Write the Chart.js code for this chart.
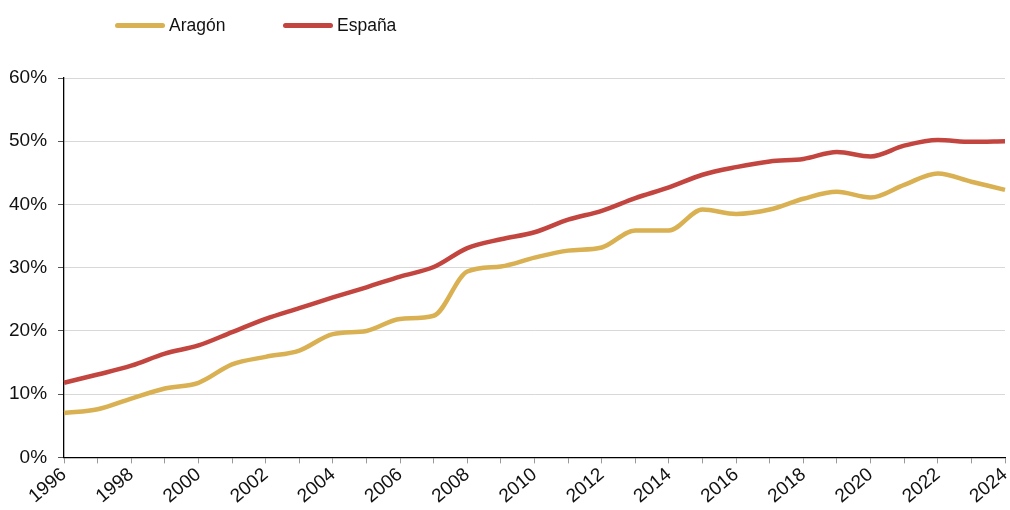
<!DOCTYPE html>
<html>
<head>
<meta charset="utf-8">
<script src="https://cdn.jsdelivr.net/npm/chart.js@4"></script>
<style>
  html, body { margin: 0; padding: 0; background: #fff; }
  #wrap { position: relative; width: 1010px; height: 510px; }
  .legend { position: absolute; top: 15px; font: 17.5px "Liberation Sans", Arial, sans-serif; color: #111; display: flex; align-items: center; }
  .legend span.sw { display: inline-block; width: 50px; height: 5px; border-radius: 3px; margin-right: 4px; }
</style>
</head>
<body>
<div id="wrap">
  <div class="legend" style="left:115px"><span class="sw" style="background:#D9B052"></span>Aragón</div>
  <div class="legend" style="left:283px"><span class="sw" style="background:#C2453F"></span>España</div>
  <canvas id="chart" width="1010" height="510"></canvas>
</div>
<script>
// Data
const years = ['1996','1997','1998','1999','2000','2001','2002','2003','2004','2005','2006','2007','2008','2009','2010',
  '2011','2012','2013','2014','2015','2016','2017','2018','2019','2020','2021','2022','2023','2024'];
const aragon = [7.0, 7.6, 9.3, 10.9, 11.8, 14.7, 15.9, 16.9, 19.5, 20.0, 21.9, 22.4, 29.4, 30.2, 31.6,
  32.7, 33.2, 35.9, 35.9, 39.2, 38.5, 39.2, 40.9, 42.0, 41.1, 43.1, 44.9, 43.6, 42.3];
const espana = [11.8, 13.1, 14.5, 16.4, 17.7, 19.8, 21.9, 23.6, 25.3, 26.9, 28.6, 30.1, 33.1, 34.5, 35.6,
  37.6, 39.0, 41.0, 42.7, 44.7, 45.9, 46.8, 47.2, 48.3, 47.6, 49.3, 50.2, 49.9, 50.0];

const font = { family: '"Liberation Sans", Arial, sans-serif', size: 19 };

new Chart(document.getElementById('chart'), {
    type: 'line',
    data: {
        labels: years,
        datasets: [
            { label: 'Aragón', data: aragon, borderColor: '#D9B052', borderWidth: 4.5, pointRadius: 0, tension: 0.4, cubicInterpolationMode: 'monotone' },
            { label: 'España', data: espana, borderColor: '#C2453F', borderWidth: 4.5, pointRadius: 0, tension: 0.4, cubicInterpolationMode: 'monotone' }
        ]
    },
    options: {
        responsive: false,
        animation: false,
        layout: { padding: { top: 78, right: 5, left: 3, bottom: 2 } },
        plugins: { legend: { display: false }, tooltip: { enabled: false } },
        scales: {
            x: {
                grid: { drawOnChartArea: false, tickLength: 6, color: '#999' },
                border: { color: '#000', width: 1.3 },
                ticks: {
                    color: '#111', font: font, autoSkip: false, minRotation: 40, maxRotation: 40, padding: 0,
                    callback: (v, i) => (i % 2 === 0 ? years[i] : '')
                },
                afterFit: s => { s.paddingRight = 0; s.paddingLeft = 0; }
            },
            y: {
                min: 0, max: 60,
                grid: { color: '#d8d8d8', tickColor: '#555', tickLength: 6 },
                border: { color: '#000', width: 1.3, dash: [] },
                ticks: { color: '#111', font: font, stepSize: 10, padding: 11, callback: v => v + '%' },
                afterFit: s => { s.width -= 5; }
            }
        }
    }
});
</script>
</body>
</html>
